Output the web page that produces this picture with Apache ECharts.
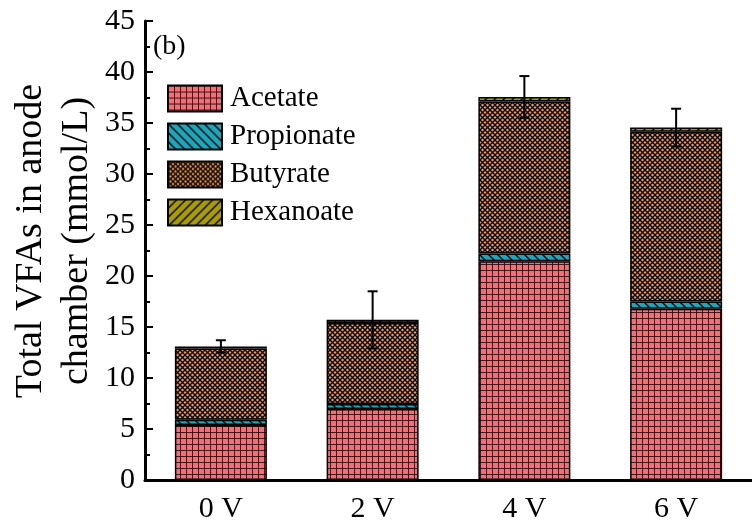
<!DOCTYPE html>
<html>
<head>
<meta charset="utf-8">
<script src="https://cdn.jsdelivr.net/npm/echarts@6/dist/echarts.min.js"></script>
<style>
  html, body { margin: 0; padding: 0; background: #fff; }
  #chart { width: 752px; height: 530px; }
</style>
</head>
<body>
<div id="chart"></div>
<script>
const categories = ['0 V', '2 V', '4 V', '6 V'];
const acetate = [5.4, 6.95, 21.45, 16.8];
const propionate = [0.5, 0.5, 0.75, 0.7];
const butyrate = [7.0, 7.95, 14.9, 16.65];
const hexanoate = [0.2, 0.3, 0.45, 0.4];
const errors = [0.6, 2.8, 2.05, 1.85];

const font = '"Liberation Serif", "Times New Roman", serif';

// small canvas tiles used as fill patterns
const makeTile = (size, draw) => {
    const c = document.createElement('canvas');
    c.width = size;
    c.height = size;
    draw(c.getContext('2d'), size);
    return { image: c, repeat: 'repeat' };
};

const gridTile = makeTile(6, (ctx, s) => {
    ctx.fillStyle = '#ee717a';
    ctx.fillRect(0, 0, s, s);
    ctx.fillStyle = 'rgba(30,0,0,0.8)';
    ctx.fillRect(0, 0, s, 1);
    ctx.fillRect(0, 0, 1, s);
});

const backTile = makeTile(9, (ctx, s) => {
    ctx.fillStyle = '#1aa8bc';
    ctx.fillRect(0, 0, s, s);
    ctx.strokeStyle = '#000';
    ctx.lineWidth = 1.4;
    ctx.beginPath();
    ctx.moveTo(-1, -1); ctx.lineTo(s + 1, s + 1);
    ctx.moveTo(-1, s - 1); ctx.lineTo(1, s + 1);
    ctx.moveTo(s - 1, -1); ctx.lineTo(s + 1, 1);
    ctx.stroke();
});

const crossTile = makeTile(5, (ctx, s) => {
    ctx.fillStyle = '#f29a4c';
    ctx.fillRect(0, 0, s, s);
    ctx.strokeStyle = '#000';
    ctx.lineWidth = 1.3;
    ctx.beginPath();
    ctx.moveTo(0, 0); ctx.lineTo(s, s);
    ctx.moveTo(s, 0); ctx.lineTo(0, s);
    ctx.stroke();
});

const fwdTile = makeTile(9, (ctx, s) => {
    ctx.fillStyle = '#a89c00';
    ctx.fillRect(0, 0, s, s);
    ctx.strokeStyle = '#000';
    ctx.lineWidth = 1.4;
    ctx.beginPath();
    ctx.moveTo(-1, s + 1); ctx.lineTo(s + 1, -1);
    ctx.moveTo(-1, 1); ctx.lineTo(1, -1);
    ctx.moveTo(s - 1, s + 1); ctx.lineTo(s + 1, s - 1);
    ctx.stroke();
});

const totals = categories.map((_, i) => acetate[i] + propionate[i] + butyrate[i] + hexanoate[i]);

const barSeries = (name, data, fill) => ({
    name,
    type: 'bar',
    stack: 'vfa',
    data,
    barWidth: 92,
    itemStyle: { color: fill, borderColor: '#000', borderWidth: 1.5 },
    emphasis: { disabled: true },
});

const chart = echarts.init(document.getElementById('chart'), null, { renderer: 'canvas' });

chart.setOption({
    backgroundColor: '#fff',
    animation: false,
    grid: { left: 145, top: 21, width: 616, height: 459 },
    legend: {
        data: ['Acetate', 'Propionate', 'Butyrate', 'Hexanoate'],
        orient: 'vertical',
        left: 167,
        top: 84,
        padding: 0,
        icon: 'rect',
        itemWidth: 54,
        itemHeight: 26,
        itemGap: 9,
        textStyle: { fontFamily: font, fontSize: 29, color: '#000', padding: [0, 0, 0, 3] },
    },
    xAxis: {
        type: 'category',
        data: categories,
        axisLine: { lineStyle: { color: '#000', width: 3 } },
        axisTick: { show: false },
        axisLabel: { color: '#000', fontFamily: font, fontSize: 30, margin: 14 },
    },
    yAxis: {
        type: 'value',
        min: 0,
        max: 45,
        interval: 5,
        axisLine: { show: true, lineStyle: { color: '#000', width: 3 } },
        axisTick: { show: true, inside: true, length: 8, lineStyle: { width: 2, color: '#000' } },
        minorTick: { show: true, splitNumber: 2, length: 5, lineStyle: { width: 2, color: '#000' } },
        splitLine: { show: false },
        axisLabel: { color: '#000', fontFamily: font, fontSize: 30, margin: 10 },
    },
    graphic: [
        {
            type: 'text',
            x: 54,
            y: 241,
            rotation: Math.PI / 2,
            style: {
                text: 'Total VFAs in anode\nchamber (mmol/L)',
                font: '38px ' + font,
                lineHeight: 46,
                fill: '#000',
                align: 'center',
                verticalAlign: 'middle',
            },
        },
        {
            type: 'text',
            left: 153,
            top: 33,
            style: { text: '(b)', font: '28px ' + font, fill: '#000' },
        },
    ],
    series: [
        barSeries('Acetate', acetate, gridTile),
        barSeries('Propionate', propionate, backTile),
        barSeries('Butyrate', butyrate, crossTile),
        barSeries('Hexanoate', hexanoate, fwdTile),
        {
            name: 'error',
            type: 'custom',
            z: 10,
            data: totals.map((t, i) => [i, t, errors[i]]),
            renderItem: (params, api) => {
                const i = api.value(0);
                const hi = api.coord([i, api.value(1) + api.value(2)]);
                const lo = api.coord([i, api.value(1) - api.value(2)]);
                const cap = 5;
                const style = { stroke: '#000', lineWidth: 2 };
                return {
                    type: 'group',
                    children: [
                        { type: 'line', shape: { x1: hi[0], y1: hi[1], x2: lo[0], y2: lo[1] }, style },
                        { type: 'line', shape: { x1: hi[0] - cap, y1: hi[1], x2: hi[0] + cap, y2: hi[1] }, style },
                        { type: 'line', shape: { x1: lo[0] - cap, y1: lo[1], x2: lo[0] + cap, y2: lo[1] }, style },
                    ],
                };
            },
        },
    ],
});

window.addEventListener('resize', () => chart.resize());
</script>
</body>
</html>
